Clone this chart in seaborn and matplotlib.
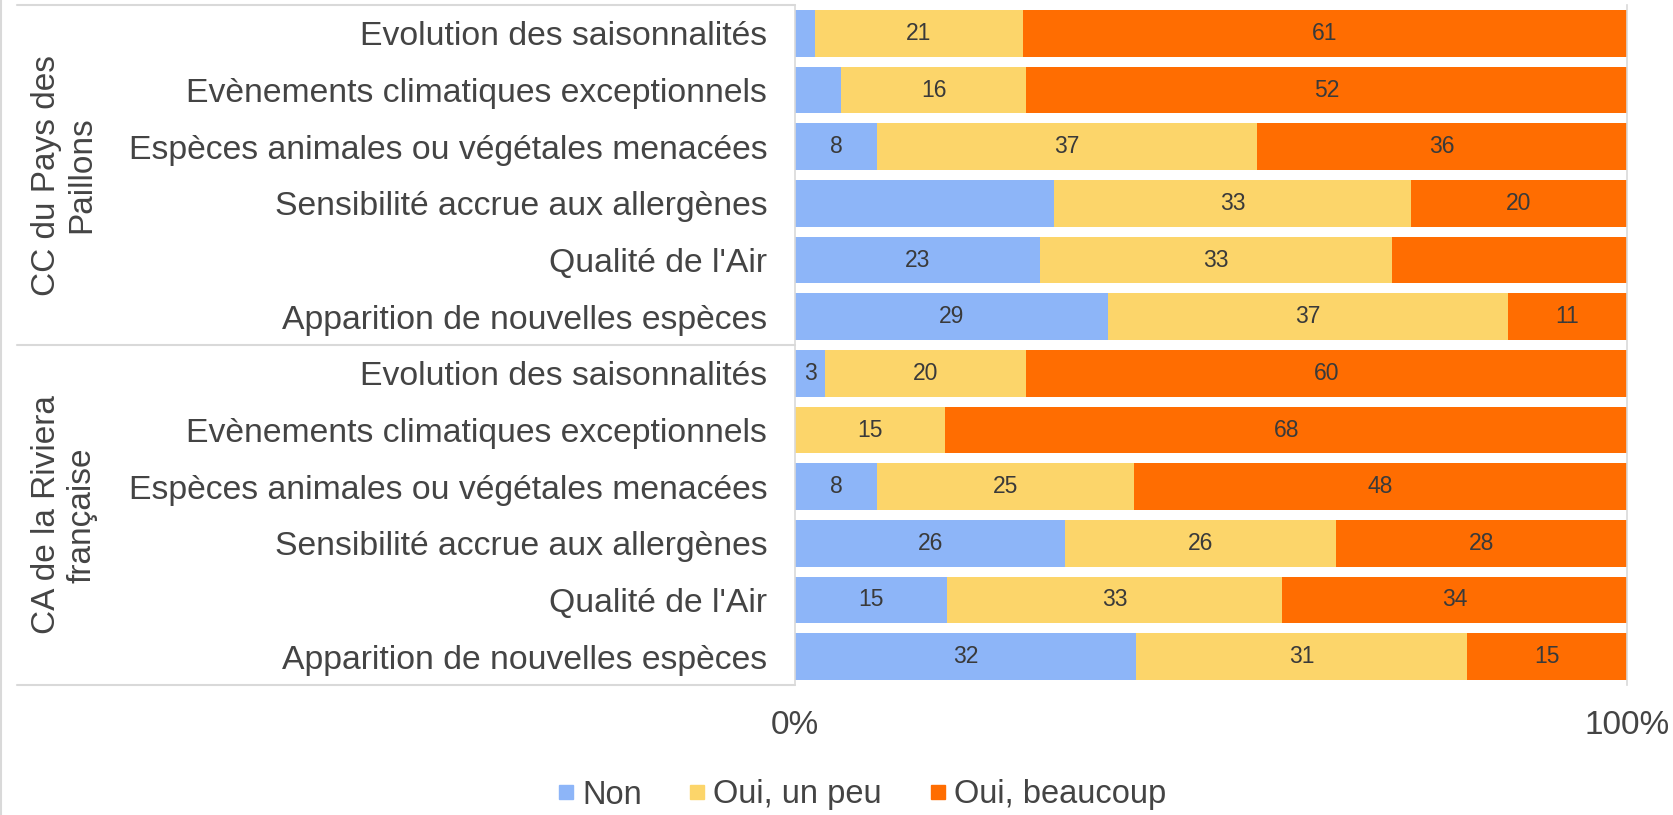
import numpy as np
import pandas as pd
import seaborn as sns
import matplotlib
matplotlib.use("Agg")
import matplotlib.pyplot as plt
from matplotlib.lines import Line2D
from matplotlib.transforms import blended_transform_factory

# ---------------- data ----------------
groups = ["CC du Pays des\nPaillons", "CA de la Riviera\nfrançaise"]
categories = [
    "Evolution des saisonnalités",
    "Evènements climatiques exceptionnels",
    "Espèces animales ou végétales menacées",
    "Sensibilité accrue aux allergènes",
    "Qualité de l'Air",
    "Apparition de nouvelles espèces",
]
series = ["Non", "Oui, un peu", "Oui, beaucoup"]

non_cc = [2, 4, 8, 24, 23, 29]
peu_cc = [21, 16, 37, 33, 33, 37]
beaucoup_cc = [61, 52, 36, 20, 22, 11]

non_ca = [3, 0, 8, 26, 15, 32]
peu_ca = [20, 15, 25, 26, 33, 31]
beaucoup_ca = [60, 68, 48, 28, 34, 15]

# labels not displayed in the original chart: (group index, category index, series index)
hidden_labels = [(0, 0, 0), (0, 1, 0), (0, 3, 0), (0, 4, 2), (1, 1, 0)]

colors = ["#8db5f8", "#fcd56a", "#ff6d01"]
x_ticks = [0, 1]
x_ticklabels = ["0%", "100%"]

# ---------------- build table ----------------
rows = []
vals_by_group = [(non_cc, peu_cc, beaucoup_cc), (non_ca, peu_ca, beaucoup_ca)]
for gi, (n, p, b) in enumerate(vals_by_group):
    for ci, cat in enumerate(categories):
        tot = n[ci] + p[ci] + b[ci]
        rows.append(dict(key=f"{gi}_{ci}", group=gi, cat=cat, cidx=ci,
                         non=n[ci] / tot, peu=p[ci] / tot, beau=b[ci] / tot,
                         non_v=n[ci], peu_v=p[ci], beau_v=b[ci]))
df = pd.DataFrame(rows)
df["c1"] = df["non"]
df["c2"] = df["non"] + df["peu"]
df["c3"] = df["non"] + df["peu"] + df["beau"]
order = list(df["key"])

# ---------------- style ----------------
sns.set_theme(style="white")
plt.rcParams["font.family"] = ["Liberation Sans", "DejaVu Sans"]
txt_col = "#444444"
grid_col = "#d9d9d9"

W, H = 1673, 815
fig = plt.figure(figsize=(W / 100, H / 100), dpi=100)
ax_l, ax_r, ax_t, ax_b = 795, 1627, 5, 685
ax = fig.add_axes([ax_l / W, 1 - ax_b / H, (ax_r - ax_l) / W, (ax_b - ax_t) / H])

bw = 0.82
for col, c in zip(["c3", "c2", "c1"], colors[::-1]):
    sns.barplot(data=df, x=col, y="key", order=order, orient="h", color=c,
                saturation=1, width=bw, linewidth=0, errorbar=None, ax=ax)

ax.set_xlim(0, 1)
ax.set_ylim(len(order) - 0.5, -0.5)
ax.set_xlabel("")
ax.set_ylabel("")
ax.set_yticks(range(len(order)))
ax.set_yticklabels(list(df["cat"]), fontsize=24.3, color=txt_col)
ax.set_xticks(x_ticks)
ax.set_xticklabels(x_ticklabels, fontsize=24, color=txt_col)
ax.tick_params(axis="y", length=0, pad=20)
ax.tick_params(axis="x", length=0, pad=18)

for s in ["top", "bottom"]:
    ax.spines[s].set_visible(False)
for s in ["left", "right"]:
    ax.spines[s].set_visible(True)
    ax.spines[s].set_color(grid_col)
    ax.spines[s].set_linewidth(1.2)

# data labels
for i, r in df.iterrows():
    starts = [0, r["c1"], r["c2"]]
    widths = [r["non"], r["peu"], r["beau"]]
    vals = [r["non_v"], r["peu_v"], r["beau_v"]]
    for si in range(3):
        if (r["group"], r["cidx"], si) in hidden_labels or vals[si] == 0:
            continue
        ax.text(starts[si] + widths[si] / 2, i, str(vals[si]), ha="center", va="center",
                fontsize=16.5, color="#3a3a3a")

# group separators and labels
tr = blended_transform_factory(ax.transAxes, ax.transData)
x_left = (17 - ax_l) / (ax_r - ax_l)
for yb in [-0.5, 5.5, 11.5]:
    ax.plot([x_left, 0], [yb, yb], color=grid_col, lw=1.5, transform=tr, clip_on=False)
x_grp = (64 - ax_l) / (ax_r - ax_l)
for gi, g in enumerate(groups):
    ax.text(x_grp, gi * 6 + 2.5, g, rotation=90, ha="center", va="center",
            fontsize=24, color=txt_col, linespacing=1.17, transform=tr,
            multialignment="center")

# left border of the image
fig.add_artist(Line2D([1 / W, 1 / W], [0, 1], color=grid_col, lw=1.5))

# legend
handles = [Line2D([], [], marker="s", linestyle="", markersize=10, color=c) for c in colors]
fig.legend(handles, series, loc="center", bbox_to_anchor=(861 / W, 1 - 795 / H), ncol=3,
           frameon=False, fontsize=23.5, handlelength=0.6, handletextpad=0.2,
           columnspacing=1.4, labelcolor=txt_col)

fig.savefig("out.png", dpi=100)
